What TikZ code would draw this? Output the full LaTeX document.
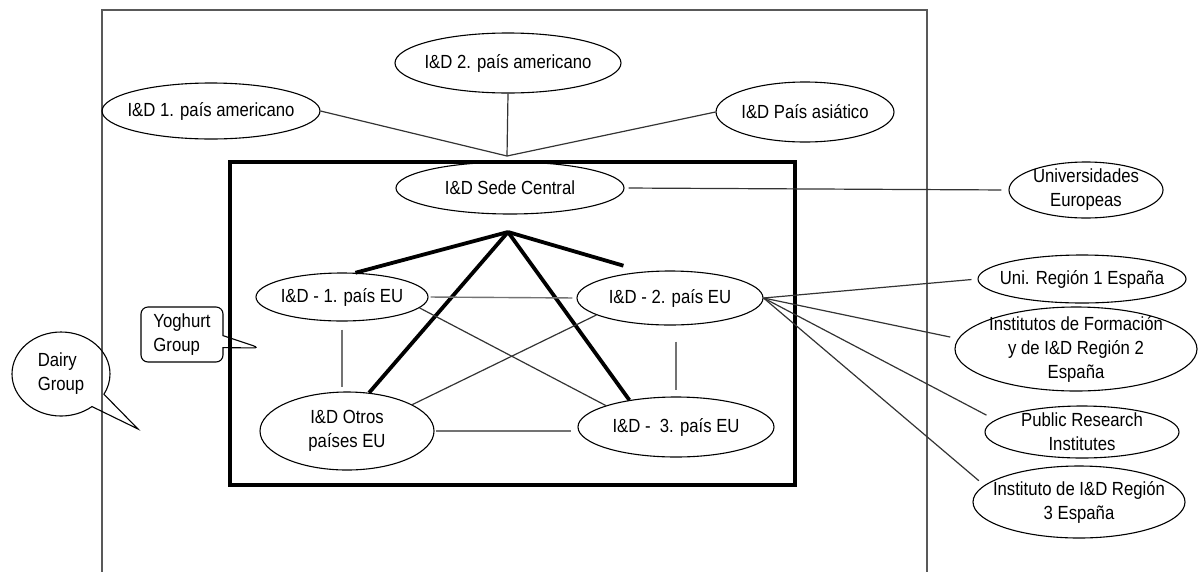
\documentclass[tikz,border=0pt]{standalone}
\usepackage{fontspec}
\setmainfont{Liberation Sans}[FakeStretch=0.88]
\usetikzlibrary{shapes.geometric,shapes.callouts}
\begin{document}
\begin{tikzpicture}[x=1pt,y=-1pt,
  txt/.style={font=\fontsize{19}{24}\selectfont, align=center, text=black, inner sep=0pt},
  oval/.style={ellipse, draw=black, line width=1.1pt, inner sep=0pt},
  thin/.style={draw=black!80, line width=1.2pt},
  inner/.style={draw=black!55, line width=1.4pt},
  thick/.style={draw=black, line width=3.8pt},
  frame/.style={draw=black!65, line width=1.5pt},
  boxframe/.style={draw=black, line width=4pt}]
\useasboundingbox (0,0) rectangle (1198,571);
% outer frame (bottom edge lies beyond the picture)
\draw[frame] (102,580) -- (102,10) -- (927,10) -- (927,580);
% inner thick frame
\draw[boxframe] (230,162) rectangle (795,485);
% nodes
\node[oval, minimum width=218pt, minimum height=56pt, label={[txt]center:{I\&D 1. país americano}}] (am1) at (211,111) {};
\node[oval, minimum width=226pt, minimum height=60pt, label={[txt]center:{I\&D 2. país americano}}] (am2) at (508,63) {};
\node[oval, minimum width=178pt, minimum height=60pt, label={[txt]center:{I\&D País asiático}}] (asia) at (805,112) {};
\node[oval, minimum width=228pt, minimum height=52pt, label={[txt]center:{I\&D Sede Central}}] (sc) at (510,188) {};
\node[oval, minimum width=154pt, minimum height=56pt, label={[txt]center:{Universidades\\Europeas}}] (univ) at (1086,190) {};
\node[oval, minimum width=172pt, minimum height=48pt, label={[txt]center:{I\&D - 1. país EU}}] (eu1) at (342,297) {};
\node[oval, minimum width=186pt, minimum height=54pt, label={[txt]center:{I\&D - 2. país EU}}] (eu2) at (670,298) {};
\node[oval, minimum width=174pt, minimum height=78pt, label={[txt]center:{I\&D Otros\\países EU}}] (ot) at (347,431) {};
\node[oval, minimum width=196pt, minimum height=60pt, label={[txt]center:{I\&D -\ \ 3. país EU}}] (eu3) at (676,427) {};
\node[oval, minimum width=208pt, minimum height=48pt, label={[txt]center:{Uni. Región 1 España}}] (uni1) at (1082,279) {};
\node[oval, minimum width=242pt, minimum height=84pt, label={[txt]center:{Institutos de Formación\\y de I\&D Región 2\\España}}] (ins2) at (1076,349) {};
\node[oval, minimum width=194pt, minimum height=52pt, label={[txt]center:{Public Research\\Institutes}}] (pub) at (1082,432) {};
\node[oval, minimum width=212pt, minimum height=72pt, label={[txt]center:{Instituto de I\&D Región\\3 España}}] (ins3) at (1079,502) {};
% callouts
\node[rectangle callout, draw=black, line width=1.1pt, rounded corners=7pt,
      callout absolute pointer={(260,348)}, callout pointer width=12pt,
      minimum width=82pt, minimum height=55pt, txt, align=left] (yog) at (182,334.5) {Yoghurt\\Group};
\node[ellipse callout, draw=black, line width=1.1pt,
      callout absolute pointer={(138,429)}, callout pointer arc=22,
      minimum width=98pt, minimum height=84pt, txt, align=left] (dairy) at (61,374) {Dairy\\Group};
% coordinates
\coordinate (hub) at (507,156);
\coordinate (apex) at (508,232);
% upper connectors
\draw[thin] (am1.east) -- (hub);
\draw[thin] (am2.south) -- (hub);
\draw[thin] (asia.west) -- (hub);
\draw[thin, shorten <=4pt, shorten >=7pt] (sc.east) -- (univ.west);
% thick connectors
\draw[thick] (apex) -- (eu1.61);
\draw[thick] (apex) -- (ot.60);
\draw[thick] (apex) -- (eu3.150);
\draw[thick, shorten >=21pt] (apex) -- (eu2.135);
% inner thin connectors
\draw[inner, shorten <=2pt, shorten >=4pt] (eu1.east) -- (eu2.west);
\draw[inner, shorten <=8pt, shorten >=4pt] (eu1.south) -- (eu1.south |- ot.north);
\draw[inner, shorten <=16pt, shorten >=6pt] (eu3.north |- eu2.south) -- (eu3.north);
\draw[inner, shorten <=1pt, shorten >=6pt] (ot.east) -- (ot.east -| eu3.west);
\draw[thin] (eu1.-8) -- (eu3.163);
\draw[thin] (eu2.193) -- (ot.22);
% right connectors
\draw[thin, shorten >=6pt] (eu2.east) -- (uni1.west);
\draw[thin, shorten >=8pt] (eu2.east) -- (ins2.175);
\draw[thin, shorten >=10pt] (eu2.east) -- (pub.172);
\draw[thin, shorten >=7pt] (eu2.east) -- (ins3.170);
\end{tikzpicture}
\end{document}
